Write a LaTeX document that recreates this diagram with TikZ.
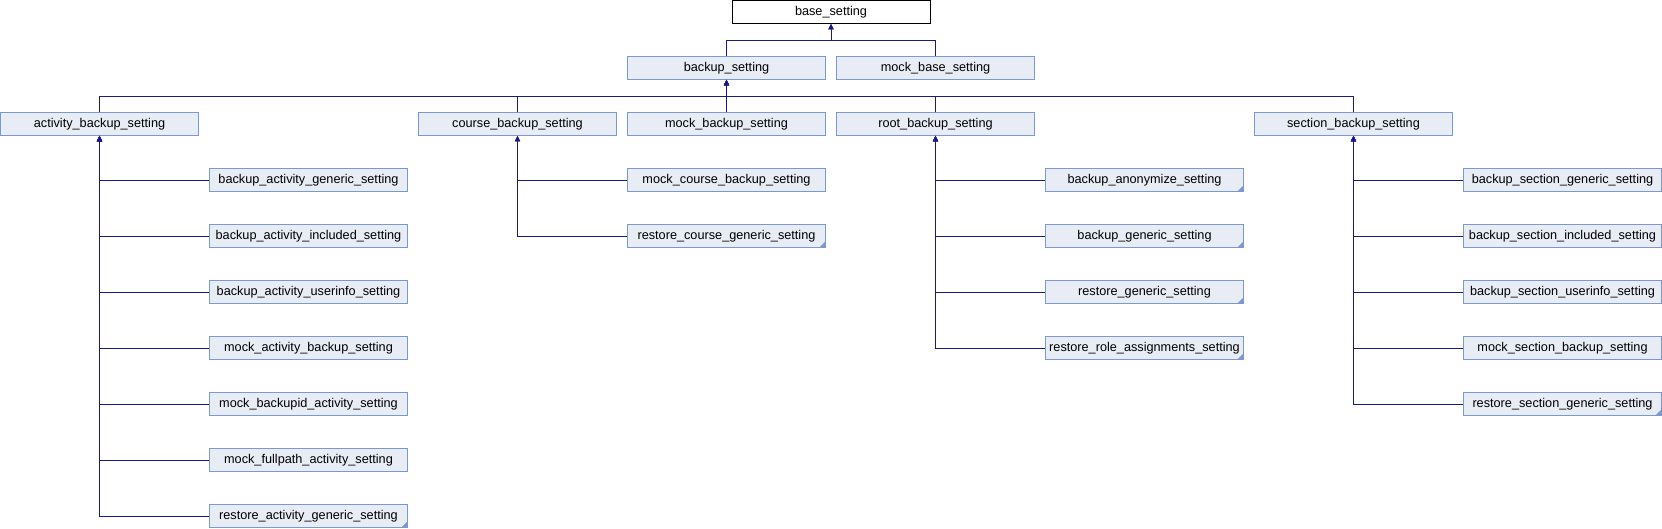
\documentclass[tikz,border=0pt]{standalone}
\usepackage{fontspec}
\setmainfont{Liberation Sans}
\usetikzlibrary{arrows.meta}
\definecolor{edgec}{RGB}{25,25,140}
\definecolor{boxfill}{RGB}{232,236,245}
\definecolor{boxline}{RGB}{124,152,208}
\tikzset{
  cls/.style={draw=boxline, fill=boxfill, line width=1pt, minimum width=198pt, minimum height=22.5pt, inner sep=0pt, font=\fontsize{12.7pt}{14pt}\selectfont},
  topcls/.style={cls, draw=black, fill=white},
  arr/.style={draw=edgec, line width=1pt, -{Triangle[length=5.5pt,width=5pt]}},
  corner/.style={fill=boxline, draw=none}
}
\begin{document}
\begin{tikzpicture}[x=1pt,y=-1pt]
\useasboundingbox (0,0) rectangle (1662,528);
% nodes
\node[topcls] (base) at (831,12) {base\_setting};
\node[cls] (bs) at (726.5,68) {backup\_setting};
\node[cls] (mbs) at (935.5,68) {mock\_base\_setting};
\node[cls] (act) at (99.5,124) {activity\_backup\_setting};
\node[cls] (crs) at (517.5,124) {course\_backup\_setting};
\node[cls] (mbk) at (726.5,124) {mock\_backup\_setting};
\node[cls] (root) at (935.5,124) {root\_backup\_setting};
\node[cls] (sec) at (1353.5,124) {section\_backup\_setting};
% activity children
\node[cls] (a1) at (308.5,180) {backup\_activity\_generic\_setting};
\node[cls] (a2) at (308.5,236) {backup\_activity\_included\_setting};
\node[cls] (a3) at (308.5,292) {backup\_activity\_userinfo\_setting};
\node[cls] (a4) at (308.5,348) {mock\_activity\_backup\_setting};
\node[cls] (a5) at (308.5,404) {mock\_backupid\_activity\_setting};
\node[cls] (a6) at (308.5,460) {mock\_fullpath\_activity\_setting};
\node[cls] (a7) at (308.5,516) {restore\_activity\_generic\_setting};
% course children
\node[cls] (c1) at (726.5,180) {mock\_course\_backup\_setting};
\node[cls] (c2) at (726.5,236) {restore\_course\_generic\_setting};
% root children
\node[cls] (r1) at (1144.5,180) {backup\_anonymize\_setting};
\node[cls] (r2) at (1144.5,236) {backup\_generic\_setting};
\node[cls] (r3) at (1144.5,292) {restore\_generic\_setting};
\node[cls] (r4) at (1144.5,348) {restore\_role\_assignments\_setting};
% section children
\node[cls] (s1) at (1562.5,180) {backup\_section\_generic\_setting};
\node[cls] (s2) at (1562.5,236) {backup\_section\_included\_setting};
\node[cls] (s3) at (1562.5,292) {backup\_section\_userinfo\_setting};
\node[cls] (s4) at (1562.5,348) {mock\_section\_backup\_setting};
\node[cls] (s5) at (1562.5,404) {restore\_section\_generic\_setting};
% corner marks
\foreach \n in {a7,c2,r1,r2,r3,r4,s5}{
  \fill[corner] ([xshift=-0.5pt,yshift=0.5pt]\n.south east) -- ++(-6,0) -- ++(6,-6) -- cycle;
}
% buses
\coordinate (bus1) at (0,40.3);
\coordinate (bus2) at (0,96.3);
\draw[arr] (bs.north) -- (bs.north |- bus1) -| (base.south);
\draw[arr] (mbs.north) -- (mbs.north |- bus1) -| (base.south);
\foreach \n in {act,crs,mbk,root,sec}{
  \draw[arr] (\n.north) -- (\n.north |- bus2) -| (bs.south);
}
% children
\foreach \n in {a1,a2,a3,a4,a5,a6,a7}{\draw[arr] (\n.west) -| (act.south);}
\foreach \n in {c1,c2}{\draw[arr] (\n.west) -| (crs.south);}
\foreach \n in {r1,r2,r3,r4}{\draw[arr] (\n.west) -| (root.south);}
\foreach \n in {s1,s2,s3,s4,s5}{\draw[arr] (\n.west) -| (sec.south);}
\end{tikzpicture}
\end{document}
